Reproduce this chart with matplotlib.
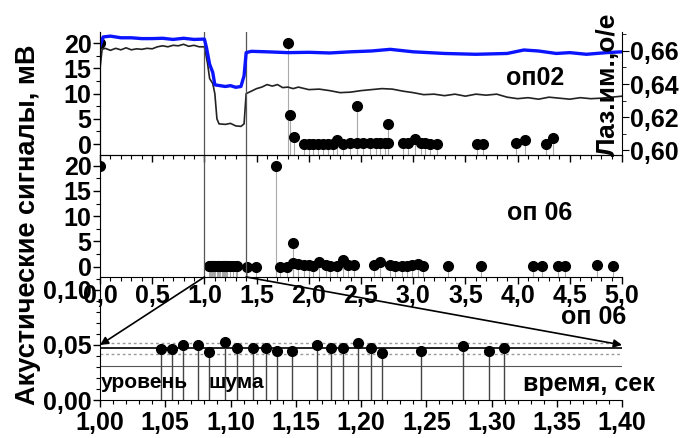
import matplotlib
matplotlib.use('Agg')
import matplotlib.pyplot as plt
from matplotlib.ticker import MultipleLocator, FuncFormatter
from matplotlib.patches import ConnectionPatch

plt.rcParams['font.family'] = ['Liberation Sans', 'DejaVu Sans']
plt.rcParams['font.weight'] = 'bold'

"""Laser pulse (right axis, о/е) and acoustic envelope op02 (mV)"""
t_laser = [0.0, 0.03, 0.1, 0.2, 0.3, 0.4, 0.5, 0.6, 0.7, 0.8, 0.9, 1.0,
           1.02, 1.05, 1.08, 1.1, 1.15, 1.2, 1.25, 1.3, 1.35, 1.38, 1.4,
           1.45, 1.6, 1.8, 2.0, 2.2, 2.4, 2.6, 2.78, 3.0, 3.3, 3.6, 3.9,
           4.06, 4.2, 4.37, 4.5, 4.66, 4.85, 5.0]
laser = [0.663, 0.6685, 0.669, 0.668, 0.668, 0.6675, 0.6675, 0.6677, 0.667,
         0.6677, 0.667, 0.6672, 0.662, 0.652, 0.647, 0.6395, 0.639, 0.6385,
         0.639, 0.638, 0.6385, 0.645, 0.659, 0.6598, 0.6595, 0.659, 0.6592,
         0.6588, 0.6595, 0.660, 0.661, 0.6595, 0.6585, 0.658, 0.6585, 0.6606,
         0.660, 0.6585, 0.659, 0.658, 0.659, 0.6595]

t_sig = [0.0, 0.02, 0.05, 0.1, 0.15, 0.2, 0.25, 0.3, 0.35, 0.4, 0.45, 0.5,
         0.55, 0.6, 0.65, 0.7, 0.75, 0.8, 0.85, 0.9, 0.95, 1.0, 1.03, 1.05,
         1.08, 1.1, 1.12, 1.14, 1.2, 1.25, 1.3, 1.35, 1.38, 1.4, 1.45, 1.5,
         1.55, 1.6, 1.65, 1.7, 1.75, 1.8, 1.85, 1.9, 2.0, 2.1, 2.2, 2.3, 2.4,
         2.5, 2.6, 2.7, 2.8, 2.9, 3.0, 3.1, 3.2, 3.3, 3.4, 3.5, 3.6, 3.7, 3.8,
         3.9, 4.0, 4.1, 4.2, 4.3, 4.4, 4.5, 4.6, 4.7, 4.8, 4.9, 5.0]
sig_op02 = [15.0, 18.8, 19.0, 18.6, 19.0, 18.7, 19.1, 18.7, 18.9, 18.8, 19.0,
            18.9, 19.3, 19.5, 19.3, 19.6, 19.5, 19.8, 19.4, 19.6, 19.3, 19.3,
            16.0, 13.0, 12.0, 10.0, 5.0, 4.0, 3.9, 4.1, 3.6, 3.5, 4.0, 10.0,
            10.5, 11.0, 11.3, 11.8, 11.5, 11.8, 11.2, 11.3, 11.0, 11.3, 10.8,
            10.9, 10.6, 10.2, 10.3, 10.6, 10.8, 11.0, 10.9, 10.5, 10.2, 9.8,
            9.9, 9.6, 9.9, 9.5, 9.9, 9.7, 9.9, 9.3, 9.0, 9.2, 8.9, 9.3, 9.1,
            8.9, 9.2, 9.0, 9.1, 9.3, 9.5]

"""Acoustic emission events, op02"""
op02_t = [0.0, 1.80, 1.82, 1.86, 1.95, 2.0, 2.04, 2.09, 2.14, 2.18, 2.23,
          2.27, 2.33, 2.39, 2.46, 2.46, 2.52, 2.59, 2.64, 2.68, 2.73, 2.76,
          2.76, 2.90, 2.95, 3.02, 3.07, 3.11, 3.16, 3.23, 3.61, 3.67, 3.98,
          4.07, 4.27, 4.34]
op02_amp = [20.0, 20.1, 5.8, 1.4, 0.1, 0.1, 0.1, 0.1, 0.1, 0.1, 0.1, 0.8,
            0.1, 0.2, 7.5, 0.2, 0.2, 0.2, 0.2, 0.2, 0.2, 4.0, 0.2, 0.2, 0.2,
            0.9, 0.2, 0.2, 0.1, 0.1, 0.1, 0.0, 0.3, 0.8, 0.0, 1.2]

"""Acoustic emission events, op06 (outside the 1.0-1.4 s window)"""
op06_t = [0.0, 1.41, 1.49, 1.69, 1.72, 1.79, 1.85, 1.85, 1.90, 1.95, 2.0,
          2.04, 2.10, 2.16, 2.20, 2.27, 2.33, 2.38, 2.43, 2.62, 2.68, 2.78,
          2.83, 2.89, 2.94, 2.99, 3.05, 3.09, 3.33, 3.65, 4.15, 4.23, 4.39,
          4.45, 4.76, 4.91]
op06_amp = [20.0, 0.0, 0.0, 20.0, 0.0, 0.0, 4.75, 0.7, 0.5, 0.3, 0.4, 0.2,
            0.9, 0.3, 0.2, 0.2, 1.3, 0.3, 0.3, 0.4, 1.0, 0.3, 0.2, 0.2, 0.2,
            0.3, 0.5, 0.2, 0.2, 0.2, 0.2, 0.2, 0.2, 0.2, 0.4, 0.2]

"""op06 events inside the window 1.0-1.4 s"""
zoom_t = [1.0465, 1.0549, 1.0638, 1.0753, 1.0838, 1.0958, 1.1052, 1.1170,
          1.1270, 1.1359, 1.1469, 1.1665, 1.1770, 1.1860, 1.1979, 1.2077,
          1.2164, 1.2460, 1.2780, 1.2983, 1.3098]
zoom_amp = [0.0464, 0.0464, 0.0500, 0.0500, 0.0439, 0.0525, 0.0470, 0.0470,
            0.0470, 0.0443, 0.0443, 0.0497, 0.0470, 0.0470, 0.0521, 0.0470,
            0.0425, 0.0445, 0.0494, 0.0445, 0.0470]

noise_mean = 0.047
noise_hi = 0.0515
noise_lo = 0.0418
noise_floor = 0.031

comma1 = FuncFormatter(lambda v, p: ('%.1f' % v).replace('.', ','))
comma2 = FuncFormatter(lambda v, p: ('%.2f' % v).replace('.', ','))
TS = 18

fig = plt.figure(figsize=(6.88, 4.38), dpi=100)
L, W = 100 / 688, 522 / 688
ax1 = fig.add_axes([L, 1 - 155 / 438, W, 123 / 438])
ax2 = fig.add_axes([L, 1 - 277 / 438, W, 122 / 438])
ax3 = fig.add_axes([L, 1 - 400 / 438, W, 121 / 438])
for ax in (ax1, ax2, ax3):
    ax.patch.set_alpha(0)
    ax.spines['top'].set_visible(False)
    ax.spines['right'].set_visible(False)
    ax.tick_params(which='major', direction='out', length=5, width=1,
                   labelsize=TS, pad=1)
    ax.tick_params(which='minor', direction='out', length=3, width=0.8)

"""Top panel"""
ylo1 = (-2.18, 22.24)
ax1.vlines(op02_t, ylo1[0], op02_amp, color='#aaaaaa', lw=0.8)
ax1.plot(op02_t, op02_amp, 'o', color='k', ms=7)
ax1.plot(t_sig, sig_op02, color='#222222', lw=1.2)
for x in (1.0, 1.4):
    ax1.axvline(x, color='#555555', lw=0.9)
ax1.set_xlim(0, 5)
ax1.set_ylim(*ylo1)
ax1.xaxis.set_major_locator(MultipleLocator(0.5))
ax1.xaxis.set_minor_locator(MultipleLocator(0.1))
ax1.yaxis.set_major_locator(MultipleLocator(5))
ax1.yaxis.set_minor_locator(MultipleLocator(2.5))
ax1.tick_params(axis='x', labelbottom=False)
ax1.text(535, 438 - 78, 'оп02', transform=None, ha='center', va='center',
         fontsize=TS)

ax1r = ax1.twinx()
ax1r.spines['top'].set_visible(False)
ax1r.plot(t_laser, laser, color='#0a14ff', lw=2.4)
ax1r.set_ylim(0.597, 0.6715)
ax1r.yaxis.set_major_locator(MultipleLocator(0.02))
ax1r.yaxis.set_minor_locator(MultipleLocator(0.01))
ax1r.yaxis.set_major_formatter(comma2)
ax1r.tick_params(which='major', direction='out', length=5, labelsize=TS, pad=1)
ax1r.tick_params(which='minor', direction='out', length=3)
fig.text(608 / 688, 1 - 84 / 438, 'Лаз.им.,о/е', rotation=90, ha='center',
         va='center', fontsize=19)

"""Middle panel"""
ylo2 = (-2.04, 22.1)
all06_t = op06_t + zoom_t
all06_amp = op06_amp + zoom_amp
ax2.vlines(all06_t, ylo2[0], all06_amp, color='#aaaaaa', lw=0.8)
ax2.plot(all06_t, all06_amp, 'o', color='k', ms=7)
for x in (1.0, 1.4):
    ax2.axvline(x, color='#555555', lw=0.9)
ax2.set_xlim(0, 5)
ax2.set_ylim(*ylo2)
ax2.xaxis.set_major_locator(MultipleLocator(0.5))
ax2.xaxis.set_minor_locator(MultipleLocator(0.1))
ax2.xaxis.set_major_formatter(comma1)
ax2.yaxis.set_major_locator(MultipleLocator(5))
ax2.yaxis.set_minor_locator(MultipleLocator(2.5))
ax2.tick_params(axis='x', pad=0)
ax2.text(540, 438 - 213, 'оп 06', transform=None, ha='center', va='center',
         fontsize=TS)

"""Bottom panel: zoom of op06 between 1.0 and 1.4 s"""
ax3.axhline(noise_hi, color='#999999', lw=1, ls=(0, (2, 2)))
ax3.axhline(noise_lo, color='#999999', lw=1, ls=(0, (2, 2)))
ax3.axhline(noise_mean, color='#222222', lw=1.4)
ax3.axhline(noise_floor, color='#555555', lw=0.8)
ax3.vlines(zoom_t, 0, zoom_amp, color='#444444', lw=1)
ax3.plot(zoom_t, zoom_amp, 'o', color='k', ms=7)
ax3.set_xlim(1.0, 1.4)
ax3.set_ylim(0, 0.11)
ax3.xaxis.set_major_locator(MultipleLocator(0.05))
ax3.xaxis.set_minor_locator(MultipleLocator(0.01))
ax3.xaxis.set_major_formatter(comma2)
ax3.yaxis.set_major_locator(MultipleLocator(0.05))
ax3.yaxis.set_minor_locator(MultipleLocator(0.01))
ax3.yaxis.set_major_formatter(comma2)
ax3.tick_params(axis='x', pad=3)
ax3.text(594, 438 - 317, 'оп 06', transform=None, ha='center', va='center',
         fontsize=TS)
ax3.text(589, 438 - 384, 'время, сек', transform=None, ha='center',
         va='center', fontsize=TS)
ax3.text(144, 438 - 383, 'уровень', transform=None, ha='center', va='center',
         fontsize=15)
ax3.text(236, 438 - 383, 'шума', transform=None, ha='center', va='center',
         fontsize=15)

"""Arrows from the window in the middle panel to the zoomed panel"""
for x0, x1 in ((1.0, 1.0), (1.4, 1.4)):
    con = ConnectionPatch(xyA=(x0, ylo2[0]), coordsA=ax2.transData,
                          xyB=(x1, 0.05), coordsB=ax3.transData,
                          arrowstyle='-|>', color='k', lw=1.2,
                          mutation_scale=12)
    fig.add_artist(con)

fig.text(28 / 688, 1 - 225 / 438, 'Акустические сигналы, мВ', rotation=90,
         ha='center', va='center', fontsize=19.5)

fig.savefig('out.png', dpi=100)
